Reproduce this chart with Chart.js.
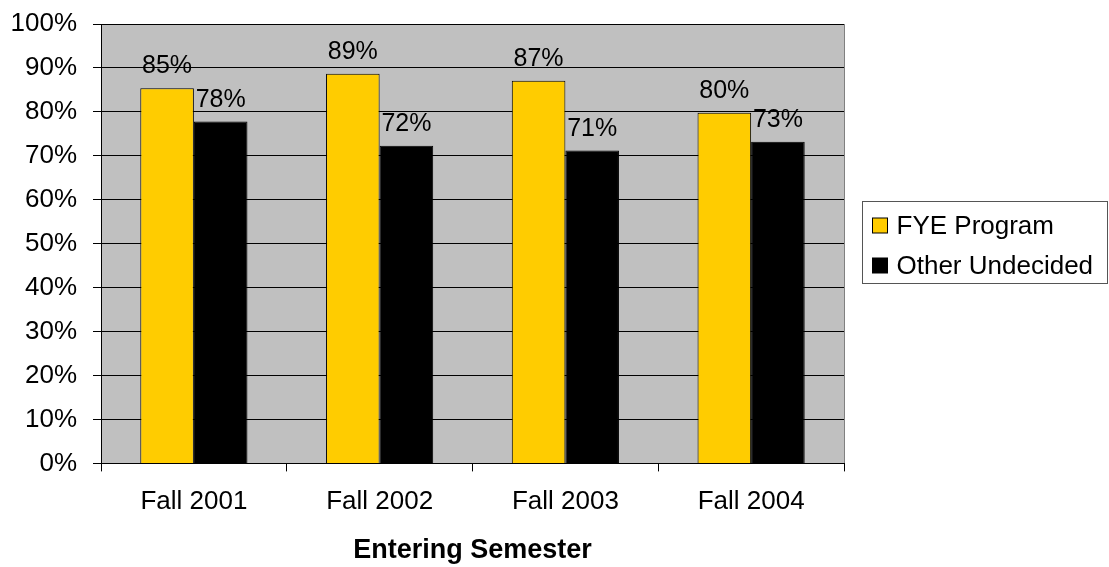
<!DOCTYPE html>
<html>
<head>
<meta charset="utf-8">
<script src="https://cdn.jsdelivr.net/npm/chart.js@4"></script>
<style>
  html, body { margin: 0; padding: 0; background: #fff; }
  #wrap { width: 1109px; height: 567px; }
</style>
</head>
<body>
<div id="wrap"><canvas id="barChart" width="1109" height="567"></canvas></div>
<script>
const semesters = ['Fall 2001', 'Fall 2002', 'Fall 2003', 'Fall 2004'];
const fyeProgram = [85.4, 88.7, 87.1, 79.8];
const otherUndecided = [77.8, 72.3, 71.2, 73.2];
const seriesNames = ['FYE Program', 'Other Undecided'];
const seriesColors = ['#FFCC00', '#000000'];

const FONT = '"Liberation Sans", Arial, sans-serif';

// grey plot background
const plotBackground = {
  id: 'plotBackground',
  beforeDraw(chart) {
    const a = chart.chartArea, ctx = chart.ctx;
    ctx.save();
    ctx.fillStyle = '#C0C0C0';
    ctx.fillRect(a.left, a.top, a.right - a.left, a.bottom - a.top);
    ctx.strokeStyle = '#808080';
    ctx.lineWidth = 1;
    ctx.beginPath();
    ctx.moveTo(a.right + 0.5, a.top);
    ctx.lineTo(a.right + 0.5, a.bottom);
    ctx.stroke();
    ctx.restore();
  }
};

// value labels above bars
const valueLabels = {
  id: 'valueLabels',
  afterDatasetsDraw(chart) {
    const ctx = chart.ctx;
    ctx.save();
    ctx.font = '25px ' + FONT;
    ctx.fillStyle = '#000';
    ctx.textAlign = 'center';
    ctx.textBaseline = 'alphabetic';
    chart.data.datasets.forEach((ds, i) => {
      chart.getDatasetMeta(i).data.forEach((bar, j) => {
        ctx.fillText(Math.round(ds.data[j]) + '%', bar.x, bar.y - 15);
      });
    });
    ctx.restore();
  }
};

// boxed legend on the right
const boxLegend = {
  id: 'boxLegend',
  afterDraw(chart) {
    const ctx = chart.ctx;
    const x = 862.5, y = 201.5, w = 245, h = 82;
    ctx.save();
    ctx.fillStyle = '#fff';
    ctx.fillRect(x, y, w, h);
    ctx.strokeStyle = '#555';
    ctx.lineWidth = 1;
    ctx.strokeRect(x, y, w, h);
    ctx.font = '26px ' + FONT;
    ctx.textBaseline = 'middle';
    ctx.textAlign = 'left';
    chart.data.datasets.forEach((ds, i) => {
      const cy = y + 24 + i * 40;
      ctx.fillStyle = ds.backgroundColor;
      ctx.fillRect(x + 10, cy - 7.5, 15, 15);
      ctx.strokeStyle = '#000';
      ctx.strokeRect(x + 10, cy - 7.5, 15, 15);
      ctx.fillStyle = '#000';
      ctx.fillText(ds.label, x + 34, cy + 1);
    });
    ctx.restore();
  }
};

const barChartData = {
  labels: semesters,
  datasets: [
    {
      label: seriesNames[0],
      data: fyeProgram,
      backgroundColor: seriesColors[0],
      borderColor: '#000',
      borderWidth: 1,
      categoryPercentage: 0.577,
      barPercentage: 1.0
    },
    {
      label: seriesNames[1],
      data: otherUndecided,
      backgroundColor: seriesColors[1],
      borderColor: '#000',
      borderWidth: 1,
      categoryPercentage: 0.577,
      barPercentage: 1.0
    }
  ]
};

const barChartConfig = {
  type: 'bar',
  data: barChartData,
  options: {
    responsive: false,
    animation: false,
    layout: { padding: { top: 0, right: 265, left: 0, bottom: 0 } },
    plugins: {
      legend: { display: false },
      tooltip: { enabled: false }
    },
    scales: {
      x: {
        grid: {
          drawOnChartArea: false,
          drawTicks: true,
          tickLength: 8,
          color: '#000',
          offset: true
        },
        border: { color: '#000', width: 1 },
        ticks: {
          color: '#000',
          font: { family: FONT, size: 26 },
          padding: 15
        },
        title: {
          display: true,
          text: 'Entering Semester',
          color: '#000',
          font: { family: FONT, size: 27, weight: 'bold' },
          padding: { top: 2, bottom: 0 }
        }
      },
      y: {
        min: 0,
        max: 100,
        afterFit(scale) { scale.width = 101; },
        grid: {
          color: '#000',
          lineWidth: 1,
          tickLength: 8
        },
        border: { color: '#000', width: 1 },
        ticks: {
          stepSize: 10,
          color: '#000',
          font: { family: FONT, size: 26, lineHeight: 0.62 },
          padding: 16,
          callback: v => v + '%'
        }
      }
    }
  },
  plugins: [plotBackground, valueLabels, boxLegend]
};

const barChartCanvas = document.getElementById('barChart').getContext('2d');
new Chart(barChartCanvas, barChartConfig);
</script>
</body>
</html>
